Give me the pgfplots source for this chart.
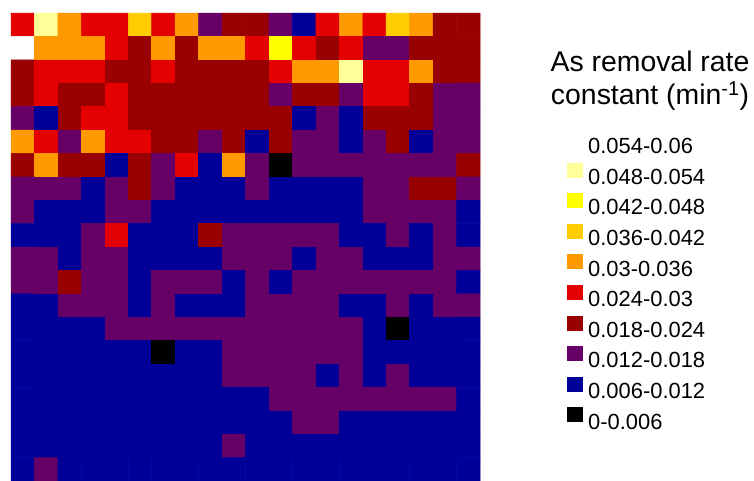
\documentclass[border=0pt]{standalone}
\usepackage{fontspec}
\setmainfont{Liberation Sans}
\usepackage{pgfplots}
\pgfplotsset{compat=1.18}

% ten classes of the removal rate constant, 0.006 min^-1 wide each
\definecolor{k0}{RGB}{0,0,0}
\definecolor{k1}{RGB}{0,0,153}
\definecolor{k2}{RGB}{102,0,102}
\definecolor{k3}{RGB}{153,0,0}
\definecolor{k4}{RGB}{228,0,0}
\definecolor{k5}{RGB}{255,153,0}
\definecolor{k6}{RGB}{255,204,0}
\definecolor{k7}{RGB}{255,255,0}
\definecolor{k8}{RGB}{255,255,153}
\definecolor{k9}{RGB}{255,255,255}

% one colour per class; class midpoints 0.003 ... 0.057 sit exactly on the entries
\pgfplotsset{
  colormap={asrate}{
    rgb255=(0,0,0) rgb255=(0,0,153) rgb255=(102,0,102) rgb255=(153,0,0)
    rgb255=(228,0,0) rgb255=(255,153,0) rgb255=(255,204,0) rgb255=(255,255,0)
    rgb255=(255,255,153) rgb255=(255,255,255)
  },
  swatch/.style={legend image code/.code={%
      \fill[##1, draw=none] (-2bp,-0.3bp) rectangle (14bp,14.7bp);}},
}

\begin{document}
\begin{tikzpicture}
\path[use as bounding box] (0,0) rectangle (754bp,481bp);
\begin{axis}[
  at={(11bp,0bp)}, anchor=south west,
  scale only axis, width=469bp, height=468bp,
  hide axis, clip=false,
  xmin=-0.5, xmax=19.5, ymin=-0.5, ymax=19.5,
  y dir=reverse,
  enlargelimits=false,
  colormap name=asrate,
  point meta min=0.003, point meta max=0.057,
  title={As removal rate\\constant (min\textsuperscript{-1})},
  title style={at={(axis description cs:1.3625,0.907)}, anchor=north,
    align=center, inner sep=0pt, font=\fontsize{28.5}{33}\selectfont},
  legend style={at={(axis description cs:1.1855,0.746)}, anchor=north west,
    draw=none, fill=none, inner sep=0pt, row sep=7.5bp, column sep=5bp,
    nodes={inner sep=0pt}, font=\fontsize{22}{24}\selectfont},
  legend cell align=left,
]
% grid cells: column index, row index (row 0 at the top), rate constant
\addplot[matrix plot, shader=faceted, faceted color=mapped color,
  line width=0.5pt, mesh/cols=20, point meta=explicit, forget plot] coordinates {
(0,0)[0.027] (1,0)[0.051] (2,0)[0.033] (3,0)[0.027] (4,0)[0.027] (5,0)[0.039] (6,0)[0.027] (7,0)[0.033] (8,0)[0.015] (9,0)[0.021] (10,0)[0.021] (11,0)[0.015] (12,0)[0.009] (13,0)[0.027] (14,0)[0.033] (15,0)[0.027] (16,0)[0.039] (17,0)[0.033] (18,0)[0.021] (19,0)[0.021]
(0,1)[0.057] (1,1)[0.033] (2,1)[0.033] (3,1)[0.033] (4,1)[0.027] (5,1)[0.021] (6,1)[0.033] (7,1)[0.021] (8,1)[0.033] (9,1)[0.033] (10,1)[0.027] (11,1)[0.045] (12,1)[0.027] (13,1)[0.021] (14,1)[0.027] (15,1)[0.015] (16,1)[0.015] (17,1)[0.021] (18,1)[0.021] (19,1)[0.021]
(0,2)[0.021] (1,2)[0.027] (2,2)[0.027] (3,2)[0.027] (4,2)[0.021] (5,2)[0.021] (6,2)[0.027] (7,2)[0.021] (8,2)[0.021] (9,2)[0.021] (10,2)[0.021] (11,2)[0.027] (12,2)[0.033] (13,2)[0.033] (14,2)[0.051] (15,2)[0.027] (16,2)[0.027] (17,2)[0.033] (18,2)[0.021] (19,2)[0.021]
(0,3)[0.021] (1,3)[0.027] (2,3)[0.021] (3,3)[0.021] (4,3)[0.027] (5,3)[0.021] (6,3)[0.021] (7,3)[0.021] (8,3)[0.021] (9,3)[0.021] (10,3)[0.021] (11,3)[0.015] (12,3)[0.021] (13,3)[0.021] (14,3)[0.015] (15,3)[0.027] (16,3)[0.027] (17,3)[0.021] (18,3)[0.015] (19,3)[0.015]
(0,4)[0.015] (1,4)[0.009] (2,4)[0.021] (3,4)[0.027] (4,4)[0.027] (5,4)[0.021] (6,4)[0.021] (7,4)[0.021] (8,4)[0.021] (9,4)[0.021] (10,4)[0.021] (11,4)[0.021] (12,4)[0.009] (13,4)[0.015] (14,4)[0.009] (15,4)[0.021] (16,4)[0.021] (17,4)[0.021] (18,4)[0.015] (19,4)[0.015]
(0,5)[0.033] (1,5)[0.027] (2,5)[0.015] (3,5)[0.033] (4,5)[0.027] (5,5)[0.027] (6,5)[0.021] (7,5)[0.021] (8,5)[0.015] (9,5)[0.021] (10,5)[0.009] (11,5)[0.021] (12,5)[0.015] (13,5)[0.015] (14,5)[0.009] (15,5)[0.015] (16,5)[0.021] (17,5)[0.009] (18,5)[0.015] (19,5)[0.015]
(0,6)[0.021] (1,6)[0.033] (2,6)[0.021] (3,6)[0.021] (4,6)[0.009] (5,6)[0.021] (6,6)[0.015] (7,6)[0.027] (8,6)[0.009] (9,6)[0.033] (10,6)[0.015] (11,6)[0.003] (12,6)[0.015] (13,6)[0.015] (14,6)[0.015] (15,6)[0.015] (16,6)[0.015] (17,6)[0.015] (18,6)[0.015] (19,6)[0.021]
(0,7)[0.015] (1,7)[0.015] (2,7)[0.015] (3,7)[0.009] (4,7)[0.015] (5,7)[0.021] (6,7)[0.015] (7,7)[0.009] (8,7)[0.009] (9,7)[0.009] (10,7)[0.015] (11,7)[0.009] (12,7)[0.009] (13,7)[0.009] (14,7)[0.009] (15,7)[0.015] (16,7)[0.015] (17,7)[0.021] (18,7)[0.021] (19,7)[0.015]
(0,8)[0.015] (1,8)[0.009] (2,8)[0.009] (3,8)[0.009] (4,8)[0.015] (5,8)[0.015] (6,8)[0.009] (7,8)[0.009] (8,8)[0.009] (9,8)[0.009] (10,8)[0.009] (11,8)[0.009] (12,8)[0.009] (13,8)[0.009] (14,8)[0.009] (15,8)[0.015] (16,8)[0.015] (17,8)[0.015] (18,8)[0.015] (19,8)[0.009]
(0,9)[0.009] (1,9)[0.009] (2,9)[0.009] (3,9)[0.015] (4,9)[0.027] (5,9)[0.009] (6,9)[0.009] (7,9)[0.009] (8,9)[0.021] (9,9)[0.015] (10,9)[0.015] (11,9)[0.015] (12,9)[0.015] (13,9)[0.015] (14,9)[0.009] (15,9)[0.009] (16,9)[0.015] (17,9)[0.009] (18,9)[0.015] (19,9)[0.009]
(0,10)[0.015] (1,10)[0.015] (2,10)[0.009] (3,10)[0.015] (4,10)[0.015] (5,10)[0.009] (6,10)[0.009] (7,10)[0.009] (8,10)[0.009] (9,10)[0.015] (10,10)[0.015] (11,10)[0.015] (12,10)[0.009] (13,10)[0.015] (14,10)[0.015] (15,10)[0.009] (16,10)[0.009] (17,10)[0.009] (18,10)[0.015] (19,10)[0.015]
(0,11)[0.015] (1,11)[0.015] (2,11)[0.021] (3,11)[0.015] (4,11)[0.015] (5,11)[0.009] (6,11)[0.015] (7,11)[0.015] (8,11)[0.015] (9,11)[0.009] (10,11)[0.015] (11,11)[0.009] (12,11)[0.015] (13,11)[0.015] (14,11)[0.015] (15,11)[0.015] (16,11)[0.015] (17,11)[0.015] (18,11)[0.015] (19,11)[0.009]
(0,12)[0.009] (1,12)[0.009] (2,12)[0.015] (3,12)[0.015] (4,12)[0.015] (5,12)[0.009] (6,12)[0.015] (7,12)[0.009] (8,12)[0.009] (9,12)[0.009] (10,12)[0.015] (11,12)[0.015] (12,12)[0.015] (13,12)[0.015] (14,12)[0.009] (15,12)[0.009] (16,12)[0.015] (17,12)[0.009] (18,12)[0.015] (19,12)[0.015]
(0,13)[0.009] (1,13)[0.009] (2,13)[0.009] (3,13)[0.009] (4,13)[0.015] (5,13)[0.015] (6,13)[0.015] (7,13)[0.015] (8,13)[0.015] (9,13)[0.015] (10,13)[0.015] (11,13)[0.015] (12,13)[0.015] (13,13)[0.015] (14,13)[0.015] (15,13)[0.009] (16,13)[0.003] (17,13)[0.009] (18,13)[0.009] (19,13)[0.009]
(0,14)[0.009] (1,14)[0.009] (2,14)[0.009] (3,14)[0.009] (4,14)[0.009] (5,14)[0.009] (6,14)[0.003] (7,14)[0.009] (8,14)[0.009] (9,14)[0.015] (10,14)[0.015] (11,14)[0.015] (12,14)[0.015] (13,14)[0.015] (14,14)[0.015] (15,14)[0.009] (16,14)[0.009] (17,14)[0.009] (18,14)[0.009] (19,14)[0.009]
(0,15)[0.009] (1,15)[0.009] (2,15)[0.009] (3,15)[0.009] (4,15)[0.009] (5,15)[0.009] (6,15)[0.009] (7,15)[0.009] (8,15)[0.009] (9,15)[0.015] (10,15)[0.015] (11,15)[0.015] (12,15)[0.015] (13,15)[0.009] (14,15)[0.015] (15,15)[0.009] (16,15)[0.015] (17,15)[0.009] (18,15)[0.009] (19,15)[0.009]
(0,16)[0.009] (1,16)[0.009] (2,16)[0.009] (3,16)[0.009] (4,16)[0.009] (5,16)[0.009] (6,16)[0.009] (7,16)[0.009] (8,16)[0.009] (9,16)[0.009] (10,16)[0.009] (11,16)[0.015] (12,16)[0.015] (13,16)[0.015] (14,16)[0.015] (15,16)[0.015] (16,16)[0.015] (17,16)[0.015] (18,16)[0.015] (19,16)[0.009]
(0,17)[0.009] (1,17)[0.009] (2,17)[0.009] (3,17)[0.009] (4,17)[0.009] (5,17)[0.009] (6,17)[0.009] (7,17)[0.009] (8,17)[0.009] (9,17)[0.009] (10,17)[0.009] (11,17)[0.009] (12,17)[0.015] (13,17)[0.015] (14,17)[0.009] (15,17)[0.009] (16,17)[0.009] (17,17)[0.009] (18,17)[0.009] (19,17)[0.009]
(0,18)[0.009] (1,18)[0.009] (2,18)[0.009] (3,18)[0.009] (4,18)[0.009] (5,18)[0.009] (6,18)[0.009] (7,18)[0.009] (8,18)[0.009] (9,18)[0.015] (10,18)[0.009] (11,18)[0.009] (12,18)[0.009] (13,18)[0.009] (14,18)[0.009] (15,18)[0.009] (16,18)[0.009] (17,18)[0.009] (18,18)[0.009] (19,18)[0.009]
(0,19)[0.009] (1,19)[0.015] (2,19)[0.009] (3,19)[0.009] (4,19)[0.009] (5,19)[0.009] (6,19)[0.009] (7,19)[0.009] (8,19)[0.009] (9,19)[0.009] (10,19)[0.009] (11,19)[0.009] (12,19)[0.009] (13,19)[0.009] (14,19)[0.009] (15,19)[0.009] (16,19)[0.009] (17,19)[0.009] (18,19)[0.009] (19,19)[0.009]
};
% colour key, highest class first
\addlegendimage{swatch, fill=k9}\addlegendentry{0.054-0.06}
\addlegendimage{swatch, fill=k8}\addlegendentry{0.048-0.054}
\addlegendimage{swatch, fill=k7}\addlegendentry{0.042-0.048}
\addlegendimage{swatch, fill=k6}\addlegendentry{0.036-0.042}
\addlegendimage{swatch, fill=k5}\addlegendentry{0.03-0.036}
\addlegendimage{swatch, fill=k4}\addlegendentry{0.024-0.03}
\addlegendimage{swatch, fill=k3}\addlegendentry{0.018-0.024}
\addlegendimage{swatch, fill=k2}\addlegendentry{0.012-0.018}
\addlegendimage{swatch, fill=k1}\addlegendentry{0.006-0.012}
\addlegendimage{swatch, fill=k0}\addlegendentry{0-0.006}
\end{axis}
\end{tikzpicture}
\end{document}
